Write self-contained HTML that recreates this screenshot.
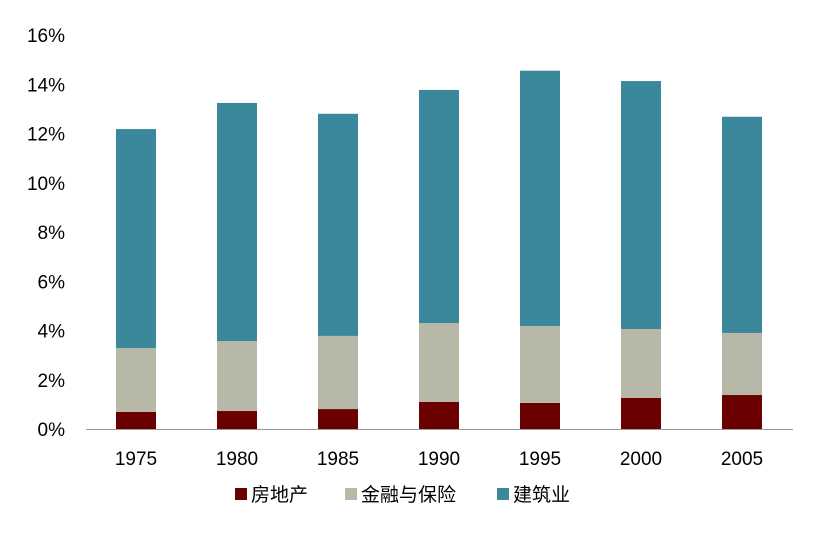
<!DOCTYPE html>
<html><head><meta charset="utf-8"><style>
body{margin:0;background:#fff;}
svg{font-family:"Liberation Sans","Noto Sans CJK SC",sans-serif;}
</style></head><body>
<svg id="chart" width="824" height="533"></svg>
<script>
const categories=["1975","1980","1985","1990","1995","2000","2005"];
const realEstate=[0.69,0.73,0.81,1.10,1.06,1.26,1.38];
const finance=[2.60,2.84,2.97,3.20,3.12,2.80,2.52];
const construction=[8.89,9.67,9.02,9.47,10.37,10.07,8.78];
const yTicks=[0,2,4,6,8,10,12,14,16];
const seriesNames=["房地产","金融与保险","建筑业"];
const colors=["#6b0000","#b8b8a8","#3b889c"];
const NS="http://www.w3.org/2000/svg";
const svg=document.getElementById("chart");
const y0=429,yTop=35,yMax=16;
const yS=v=>y0-v/yMax*(y0-yTop);
const xC=i=>136+i*101;
const bw=40;
function mk(t,a){const e=document.createElementNS(NS,t);for(const k in a)e.setAttribute(k,a[k]);svg.appendChild(e);return e;}
yTicks.forEach(t=>{
  const e=mk("text",{x:65,y:yS(t)+7,"text-anchor":"end","font-size":19,fill:"#000"});
  e.textContent=t+"%";
  
  
});
const series=[realEstate,finance,construction];
categories.forEach((c,i)=>{
  let acc=0;
  series.forEach((s,k)=>{
    const r=mk("rect",{x:xC(i)-bw/2,y:yS(acc+s[i]),width:bw,height:yS(acc)-yS(acc+s[i]),fill:colors[k]});
    
    
    acc+=s[i];
  });
  const t=mk("text",{x:xC(i),y:465,"text-anchor":"middle","font-size":19,fill:"#000"});
  t.textContent=c;
  
  
});
const ax=mk("line",{x1:86,x2:793,y1:y0+0.5,y2:y0+0.5,stroke:"#999","stroke-width":1});


const lx=[235,345,497];
seriesNames.forEach((n,k)=>{
  const r=mk("rect",{x:lx[k],y:488,width:12,height:12,fill:colors[k]});
  
  
  const t=mk("text",{x:lx[k]+16,y:501,"font-size":19,fill:"#000"});
  t.textContent=n;
  
  
});
</script>
</body></html>
